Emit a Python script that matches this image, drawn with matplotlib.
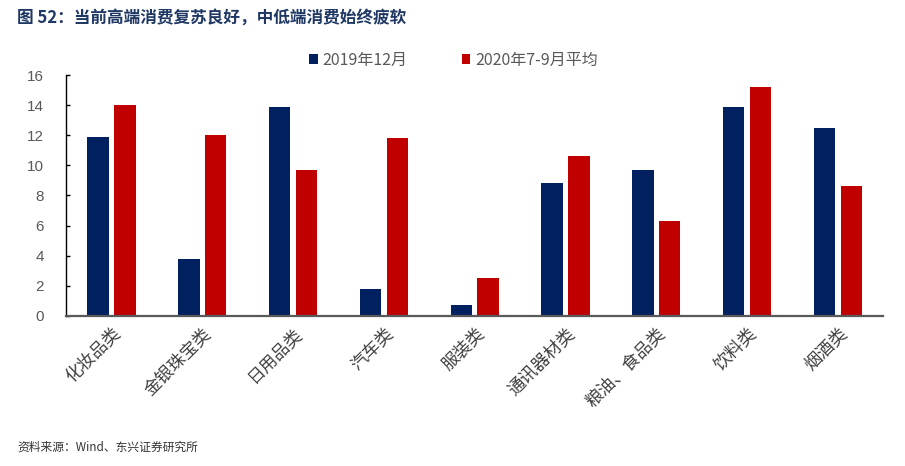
import matplotlib
matplotlib.use("Agg")
import matplotlib.pyplot as plt
import numpy as np

plt.rcParams['font.family'] = ['Noto Sans CJK SC', 'DejaVu Sans']

categories = ["化妆品类", "金银珠宝类", "日用品类", "汽车类", "服装类", "通讯器材类", "粮油、食品类", "饮料类", "烟酒类"]
s2019_12 = [11.9, 3.75, 13.9, 1.8, 0.7, 8.8, 9.7, 13.9, 12.5]
s2020_q3 = [14.0, 12.0, 9.7, 11.8, 2.5, 10.6, 6.3, 15.2, 8.6]
series_names = ["2019年12月", "2020年7-9月平均"]
yticks = [0, 2, 4, 6, 8, 10, 12, 14, 16]

fig = plt.figure(figsize=(9.05, 4.66), dpi=100)
ax = fig.add_axes([0.073, 0.322, 0.903, 0.517])

x = np.arange(len(categories))
w = 0.235
gap = 0.03
ax.bar(x - w/2 - gap, s2019_12, width=w, color="#002060", label=series_names[0])
ax.bar(x + w/2 + gap, s2020_q3, width=w, color="#C00000", label=series_names[1])

ax.set_xlim(-0.5, len(categories) - 0.5)
ax.set_ylim(0, 16)
ax.set_yticks(yticks)
ax.set_yticklabels([str(v) for v in yticks], family=['Liberation Sans', 'DejaVu Sans'], fontsize=11, color="#595959")
ax.tick_params(axis='y', direction='in', length=3, width=1, color="#000000", pad=16)
ax.set_xticks(x)
ax.set_xticklabels(categories, rotation=45, ha='right', va='top', rotation_mode='anchor',
                   fontsize=12.5, color="#404040", fontweight='light')
ax.tick_params(axis='x', length=0, pad=6)
for s in ['top', 'right']:
    ax.spines[s].set_visible(False)
ax.spines['left'].set_color('#000000')
ax.spines['left'].set_linewidth(1.0)
ax.spines['bottom'].set_color('#595959')
ax.spines['bottom'].set_linewidth(1.6)

leg = ax.legend(loc='center', bbox_to_anchor=(0.474, 1.062), ncol=2, frameon=False,
                fontsize=11.5, handlelength=0.55, handleheight=0.55, columnspacing=3.4, handletextpad=0.3)
for t in leg.get_texts():
    t.set_color("#595959")

fig.text(0.019, 0.962, "图 52：当前高端消费复苏良好，中低端消费始终疲软", fontsize=12, fontweight='bold',
         color="#1F3864", va='center', ha='left')
fig.text(0.019, 0.041, "资料来源：Wind、东兴证券研究所", fontsize=8.5, style='italic', color="#333333",
         va='center', ha='left')

fig.savefig("out.png", dpi=100)
